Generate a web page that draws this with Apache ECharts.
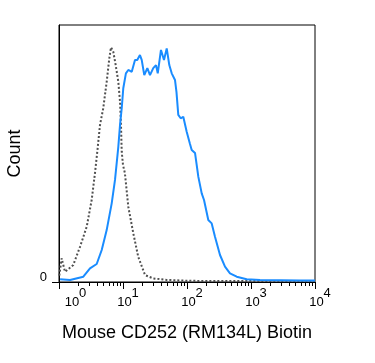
<!DOCTYPE html>
<html>
<head>
<meta charset="utf-8">
<script src="https://cdn.jsdelivr.net/npm/echarts@6/dist/echarts.min.js"></script>
<style>
html,body{margin:0;padding:0;background:#fff;}
#chart{width:375px;height:363px;}
</style>
</head>
<body>
<div id="chart"></div>
<script>
// Isotype control (gray dotted)
const isoX = [1.01, 1.10, 1.24, 1.67, 2.13, 2.71, 3.24, 3.65, 4.02, 4.37, 4.92, 5.56, 6.11, 6.49, 7.05, 7.69, 8.45, 8.98, 9.30, 9.55, 10.0, 10.7, 12.1, 14.5, 17.3, 22.1, 29.7, 48.2, 111, 964, 10000];
const isoY = [2.5, 9.2, 4.0, 6.6, 13.7, 21.5, 31.9, 42.4, 52.1, 61.1, 67.7, 77.9, 87.0, 91.3, 89.6, 84.4, 77.9, 70.2, 61.1, 50.7, 45.5, 42.4, 29.3, 18.9, 9.8, 2.7, 1.4, 0.8, 0.45, 0.35, 0.35];
// CD252 stained (blue)
const cdX = [1.04, 1.49, 2.40, 3.05, 3.88, 4.65, 5.56, 6.66, 7.50, 8.45, 8.98, 9.55, 10.1, 11.1, 12.1, 13.7, 15.4, 16.7, 18.4, 19.6, 21.5, 24.0, 26.4, 29.7, 32.8, 34.9, 39.2, 43.7, 48.2, 52.9, 57.7, 64.9, 68.5, 73.1, 79.7, 87.5, 98.9, 111.4, 118.4, 133.4, 150.2, 169.7, 184.5, 215.2, 243.2, 273.8, 327.9, 392.4, 469.6, 597.9, 856, 1383, 2838, 5834, 10000];
const cdY = [1.05, 0.78, 2.06, 5.33, 7.0, 12.45, 20.2, 30.6, 39.7, 52.6, 61.1, 67.6, 75.4, 81.2, 82.5, 81.8, 86.4, 86.4, 88.3, 86.4, 80.5, 83.2, 80.5, 83.2, 84.4, 81.2, 90.3, 86.4, 90.9, 84.4, 81.2, 78.6, 73.9, 65.0, 63.7, 64.3, 58.5, 53.7, 51.4, 50.2, 41.0, 34.5, 31.9, 24.1, 22.8, 17.6, 10.5, 5.95, 3.39, 2.06, 1.05, 0.78, 0.7, 0.6, 0.6];
const majorTicks = [1, 10, 100, 1000, 10000];
const minorTicks = [];
for (let d = 1; d < 10000; d *= 10) { for (let k = 2; k <= 9; k++) minorTicks.push(k * d); }
const yTicks = [0];
const xTitle = 'Mouse CD252 (RM134L) Biotin';
const yTitle = 'Count';

const zip = (xs, ys) => xs.map((x, i) => [x, ys[i]]);
const FONT = 'Liberation Sans, Arial, sans-serif';

const chart = echarts.init(document.getElementById('chart'), null, {renderer: 'canvas'});
chart.setOption({
  animation: false,
  grid: {left: 59, right: 60, top: 25, bottom: 81, show: true, borderColor: '#000', borderWidth: 1, backgroundColor: 'transparent', containLabel: false, outerBoundsMode: 'none'},
  xAxis: [{
    type: 'log', logBase: 10, min: 1, max: 10000,
    name: xTitle, nameLocation: 'middle', nameGap: 42,
    nameTextStyle: {fontFamily: FONT, fontSize: 18, color: '#000'},
    axisLine: {show: true, lineStyle: {color: '#000', width: 1}},
    axisTick: {show: true, length: 7, lineStyle: {color: '#000'}, customValues: majorTicks},
    splitLine: {show: false},
    axisLabel: {
      show: true, margin: 5, showMinLabel: true, showMaxLabel: true,
      customValues: majorTicks,
      formatter: function (v) {
        const e = Math.round(Math.log10(v));
        return (e === 0 ? '{b0|10}' : '{b|10}') + '{s|' + e + '}';
      },
      rich: {
        b: {fontFamily: FONT, fontSize: 13, color: '#000', lineHeight: 31, padding: [0, 0, 0, 10]},
        b0: {fontFamily: FONT, fontSize: 13, color: '#000', lineHeight: 31, padding: [0, 0, 0, 33]},
        s: {fontFamily: FONT, fontSize: 13, color: '#000', lineHeight: 13, verticalAlign: 'top'}
      }
    }
  }, {
    type: 'log', logBase: 10, min: 1, max: 10000, position: 'bottom',
    axisLine: {show: false},
    axisTick: {show: true, length: 4, lineStyle: {color: '#000'}, customValues: minorTicks},
    axisLabel: {show: false},
    splitLine: {show: false}
  }],
  yAxis: {
    type: 'value', min: 0, max: 100,
    name: yTitle, nameLocation: 'middle', nameGap: 35, nameRotate: 90,
    nameTextStyle: {fontFamily: FONT, fontSize: 18, color: '#000'},
    axisLine: {show: true, lineStyle: {color: '#000', width: 1}},
    axisTick: {show: true, length: 7, lineStyle: {color: '#000'}, customValues: yTicks},
    axisLabel: {show: true, customValues: yTicks, margin: 12, fontFamily: FONT, fontSize: 13, color: '#000', verticalAlign: 'bottom', lineHeight: 10},
    splitLine: {show: false}
  },
  series: [{
    type: 'line', xAxisIndex: 0, data: zip(isoX, isoY), showSymbol: false, smooth: false,
    lineStyle: {color: '#505050', width: 2, type: [2, 2]}
  }, {
    type: 'line', xAxisIndex: 0, data: zip(cdX, cdY), showSymbol: false, smooth: false,
    lineStyle: {color: '#1a8cff', width: 2}
  }]
});
</script>
</body>
</html>
